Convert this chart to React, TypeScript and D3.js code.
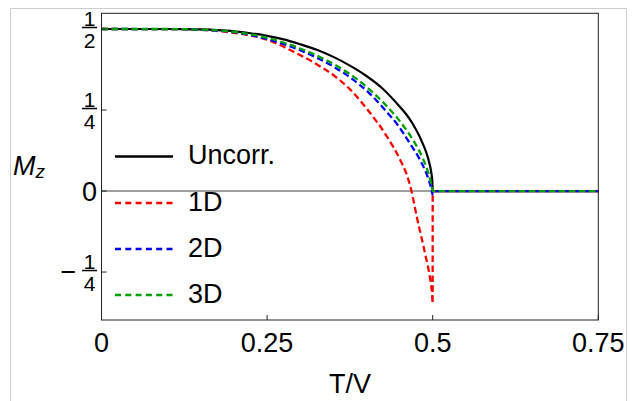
import React from "react";
import * as d3 from "d3";

// ---- data ----
const X_TICKS = [0, 0.25, 0.5, 0.75];
const X_TICK_LABELS = ["0", "0.25", "0.5", "0.75"];
const Y_TICKS = [0.5, 0.25, 0, -0.25];
const Y_TICK_LABELS = ["1/2", "1/4", "0", "-1/4"];

const UNCORR_T = [0, 0.05, 0.1, 0.125, 0.15, 0.175, 0.2, 0.225, 0.25, 0.275, 0.3, 0.325, 0.35, 0.375, 0.4, 0.425, 0.45, 0.46, 0.47, 0.48, 0.485, 0.49, 0.495, 0.498, 0.4995, 0.5, 0.75];
const UNCORR_M = [0.5, 0.5, 0.5, 0.4997, 0.4987, 0.4966, 0.493, 0.487, 0.479, 0.468, 0.453, 0.436, 0.414, 0.387, 0.355, 0.315, 0.261, 0.237, 0.207, 0.169, 0.146, 0.121, 0.086, 0.055, 0.0274, 0, 0];

const D1_T = [0, 0.1, 0.15, 0.2, 0.25, 0.29, 0.32, 0.353, 0.376, 0.402, 0.431, 0.451, 0.46, 0.468, 0.476, 0.481, 0.486, 0.49, 0.494, 0.497, 0.499, 0.4995, 0.4999, 0.5, 0.75];
const D1_M = [0.5, 0.4998, 0.4975, 0.488, 0.467, 0.43, 0.397, 0.353, 0.312, 0.25, 0.168, 0.096, 0.055, 0.0, -0.08, -0.125, -0.17, -0.207, -0.245, -0.283, -0.318, -0.335, -0.347, 0, 0];

const D2_T = [0, 0.1, 0.15, 0.2013, 0.2484, 0.2928, 0.3264, 0.3534, 0.3756, 0.4053, 0.4281, 0.4486, 0.4646, 0.4798, 0.4913, 0.4956, 0.4985, 0.4995, 0.5, 0.75];
const D2_M = [0.5, 0.4999, 0.4975, 0.49, 0.47, 0.44, 0.41, 0.38, 0.35, 0.3, 0.25, 0.2, 0.15, 0.1, 0.05, 0.024, 0.0, -0.01, 0, 0];

const D3_T = [0, 0.1, 0.15, 0.2053, 0.2554, 0.2998, 0.3334, 0.3604, 0.3826, 0.4118, 0.4361, 0.4561, 0.4726, 0.4853, 0.4943, 0.4976, 0.5, 0.75];
const D3_M = [0.5, 0.5, 0.498, 0.49, 0.47, 0.44, 0.41, 0.38, 0.35, 0.3, 0.25, 0.2, 0.15, 0.1, 0.05, 0.024, 0, 0];

const SERIES = [
  { name: "Uncorr.", t: UNCORR_T, m: UNCORR_M, color: "#000000", dash: null },
  { name: "1D", t: D1_T, m: D1_M, color: "#ff0000", dash: "6.5,3.5" },
  { name: "2D", t: D2_T, m: D2_M, color: "#0000ff", dash: "6.5,3.5" },
  { name: "3D", t: D3_T, m: D3_M, color: "#00a000", dash: "6.5,3.5" },
];

const W = 636;
const H = 401;
const PL = 101.5, PR = 598.3, PT = 13.3, PB = 320;
const FONT = "'Liberation Sans', Arial, Helvetica, sans-serif";

export default function App() {
  const x = d3.scaleLinear().domain([0, 0.75]).range([PL, PR]);
  const y = d3.scaleLinear().domain([-0.398, 0.5485]).range([PB, PT]);
  const line = d3
    .line<[number, number]>()
    .x((d) => x(d[0]))
    .y((d) => y(d[1]))
    .curve(d3.curveMonotoneX);

  const legendY = [156.5, 203, 249, 295];

  return (
    <svg
      width={W}
      height={H}
      style={{ position: "absolute", left: 0, top: 0, background: "#fff" }}
      fontFamily={FONT}
    >
      <rect x={0} y={0} width={W} height={H} fill="#fff" />
      {/* outer light frame */}
      <path d={`M10.5,${H + 2} V8.5 H626.5 V${H + 2}`} fill="none" stroke="#cccccc" strokeWidth={1} />

      {/* zero axis */}
      <line x1={x(0)} x2={x(0.75)} y1={y(0)} y2={y(0)} stroke="#7f7f7f" strokeWidth={1.4} />

      {/* curves */}
      {SERIES.map((s) => (
        <path
          key={s.name}
          d={line(s.t.map((t, i) => [t, s.m[i]] as [number, number])) || ""}
          fill="none"
          stroke={s.color}
          strokeWidth={s.dash ? 2.3 : 2.2}
          strokeDasharray={s.dash || undefined}
        />
      ))}

      {/* frame */}
      <rect x={PL} y={PT} width={PR - PL} height={PB - PT} fill="none" stroke="#222" strokeWidth={1} />

      {/* x ticks */}
      {X_TICKS.map((t, i) => (
        <g key={"xt" + i}>
          <line x1={x(t)} x2={x(t)} y1={PB} y2={PB - 5} stroke="#222" strokeWidth={1} />
          <text x={x(t)} y={352} fontSize={27} textAnchor="middle" fill="#000">
            {X_TICK_LABELS[i]}
          </text>
        </g>
      ))}

      {/* y ticks */}
      {Y_TICKS.map((v, i) => {
        const lab = Y_TICK_LABELS[i];
        const ty = y(v);
        const neg = lab.startsWith("-");
        const body = neg ? lab.slice(1) : lab;
        const parts = body.split("/");
        return (
          <g key={"yt" + i}>
            <line x1={PL} x2={PL + 5} y1={ty} y2={ty} stroke="#222" strokeWidth={1} />
            {parts.length === 2 ? (
              <g>
                <text x={89.5} y={ty - 3} fontSize={21} textAnchor="middle" fill="#000">
                  {parts[0]}
                </text>
                <line x1={82} x2={97} y1={ty - 1.5} y2={ty - 1.5} stroke="#000" strokeWidth={1.5} />
                <text x={89.5} y={ty + 18.5} fontSize={21} textAnchor="middle" fill="#000">
                  {parts[1]}
                </text>
              </g>
            ) : (
              <text x={89.5} y={ty + 9.5} fontSize={27} textAnchor="middle" fill="#000">
                {parts[0]}
              </text>
            )}
            {neg && (
              <text x={68.5} y={ty + 8.5} fontSize={27} textAnchor="middle" fill="#000">
                {"\u2212"}
              </text>
            )}
          </g>
        );
      })}

      {/* axis labels */}
      <text x={(PL + PR) / 2} y={393} fontSize={27} textAnchor="middle" fill="#000">
        T/V
      </text>
      <text x={13} y={175} fontSize={27} fontStyle="italic" fill="#000">
        M
        <tspan fontSize={19} dy={2.5}>z</tspan>
      </text>

      {/* legend */}
      {SERIES.map((s, i) => (
        <g key={"lg" + i}>
          <line
            x1={115}
            x2={173}
            y1={legendY[i]}
            y2={legendY[i]}
            stroke={s.color}
            strokeWidth={s.dash ? 2.3 : 2.5}
            strokeDasharray={s.dash ? "6,4.3" : undefined}
          />
          <text x={188} y={legendY[i] + 7.5} fontSize={27} fill="#000">
            {s.name}
          </text>
        </g>
      ))}
    </svg>
  );
}
